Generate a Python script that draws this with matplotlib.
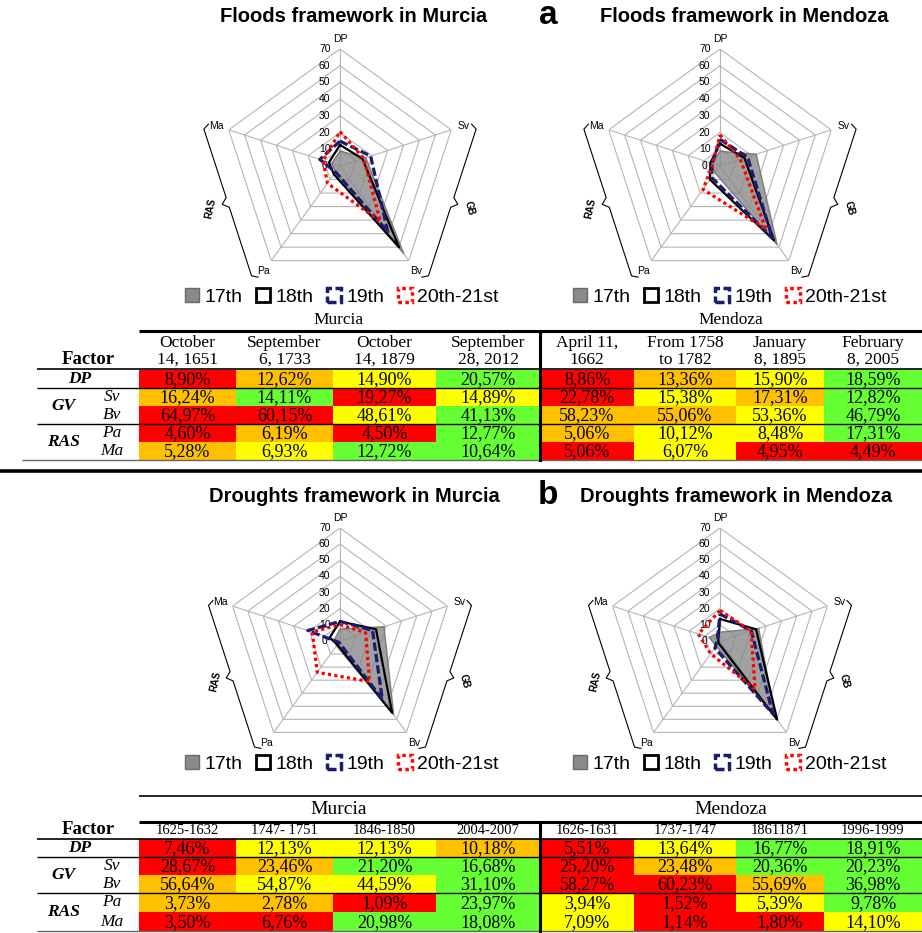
import numpy as np
import matplotlib
matplotlib.use("Agg")
import matplotlib.pyplot as plt
from matplotlib.patches import Patch, Rectangle

W, H = 922, 933

# factores (filas) y periodos (columnas)
factors = ["DP", "Sv", "Bv", "Pa", "Ma"]
series = ["17th", "18th", "19th", "20th-21st"]

floods_murcia_dates = [["October", "14, 1651"], ["September", "6, 1733"],
                       ["October", "14, 1879"], ["September", "28, 2012"]]
floods_murcia = [[8.90, 12.62, 14.90, 20.57],
                 [16.24, 14.11, 19.27, 14.89],
                 [64.97, 60.15, 48.61, 41.13],
                 [4.60, 6.19, 4.50, 12.77],
                 [5.28, 6.93, 12.72, 10.64]]
floods_murcia_col = ["royg", "ogry", "rryg", "rorg", "oygg"]

floods_mendoza_dates = [["April 11,", "1662"], ["From 1758", "to 1782"],
                        ["January", "8, 1895"], ["February", "8, 2005"]]
floods_mendoza = [[8.86, 13.36, 15.90, 18.59],
                  [22.78, 15.38, 17.31, 12.82],
                  [58.23, 55.06, 53.36, 46.79],
                  [5.06, 10.12, 8.48, 17.31],
                  [5.06, 6.07, 4.95, 4.49]]
floods_mendoza_col = ["royg", "ryog", "ooyg", "oyyg", "ryrr"]

droughts_murcia_dates = ["1625-1632", "1747- 1751", "1846-1850", "2004-2007"]
droughts_murcia = [[7.46, 12.13, 12.13, 10.18],
                   [28.67, 23.46, 21.20, 16.68],
                   [56.64, 54.87, 44.59, 31.10],
                   [3.73, 2.78, 1.09, 23.97],
                   [3.50, 6.76, 20.98, 18.08]]
droughts_murcia_col = ["ryyo", "rogg", "oyyg", "oorg", "rrgg"]

droughts_mendoza_dates = ["1626-1631", "1737-1747", "18611871", "1996-1999"]
droughts_mendoza = [[5.51, 13.64, 16.77, 18.91],
                    [25.20, 23.48, 20.36, 20.23],
                    [58.27, 60.23, 55.69, 36.98],
                    [3.94, 1.52, 5.39, 9.78],
                    [7.09, 1.14, 1.80, 14.10]]
droughts_mendoza_col = ["rygg", "rogg", "rrog", "yryg", "yrry"]

rgb = {"r": "#ff0000", "o": "#ffc000", "y": "#ffff00", "g": "#66ff33"}

fig = plt.figure(figsize=(W / 100, H / 100), dpi=100)
bg = fig.add_axes([0, 0, 1, 1])
bg.set_xlim(0, W)
bg.set_ylim(H, 0)
bg.axis("off")

angles = np.linspace(0, 2 * np.pi, 5, endpoint=False)
closed = np.append(angles, angles[0])
SANS = "Liberation Sans"
SERIF = "Liberation Serif"


def brace(ax, i, j, label, rot):
    a1, a2 = angles[i], angles[j]
    p1 = 70 * np.array([np.sin(a1), np.cos(a1)])
    p2 = 70 * np.array([np.sin(a2), np.cos(a2)])
    u = (p2 - p1) / np.linalg.norm(p2 - p1)
    mid = (a1 + a2) / 2
    n = np.array([np.sin(mid), np.cos(mid)])
    m = (p1 + p2) / 2
    d, e, h, s = 14, 7, 3.5, 3
    pts = [p1 + n * (d - h) - u * e, p1 + n * d - u * (e - 2),
           m + n * d - u * s, m + n * (d + h), m + n * d + u * s,
           p2 + n * d + u * (e - 2), p2 + n * (d - h) + u * e]
    pts = np.array(pts)
    ax.plot(np.arctan2(pts[:, 0], pts[:, 1]), np.hypot(pts[:, 0], pts[:, 1]),
            color="black", lw=0.8, clip_on=False)
    lp = m + n * (d + h + 7)
    ax.text(np.arctan2(lp[0], lp[1]), np.hypot(lp[0], lp[1]), label,
            rotation=rot, ha="center", va="center", fontsize=7,
            fontweight="bold", family=SANS)


def radar(cx, cy, vals, R=117):
    ax = fig.add_axes([(cx - R) / W, 1 - (cy + R) / H, 2 * R / W, 2 * R / H],
                      projection="polar")
    ax.set_theta_offset(np.pi / 2)
    ax.set_theta_direction(-1)
    ax.set_ylim(0, 70)
    ax.grid(False)
    ax.spines["polar"].set_visible(False)
    ax.set_xticks([])
    ax.set_yticks([])
    ax.patch.set_alpha(0)
    for r in range(10, 80, 10):
        ax.plot(closed, [r] * 6, color="#b5b5b5", lw=0.8, zorder=1)
    for a in angles:
        ax.plot([a, a], [0, 70], color="#b5b5b5", lw=0.8, zorder=1)
    for r in range(0, 80, 10):
        ax.annotate(str(r), (0, r), xytext=(-11, 0), textcoords="offset points",
                    ha="center", va="center", fontsize=7.5, family=SANS, zorder=2)
    for a, name in zip(angles, factors):
        ax.text(a, 78 if name != "DP" else 76, name, ha="center", va="center",
                fontsize=7.5, family=SANS)
    v = np.array(vals)
    ax.fill(closed, np.append(v[:, 0], v[0, 0]), facecolor="#8a8a8a", alpha=0.8,
            edgecolor="#6a6a6a", lw=1, zorder=3)
    ax.plot(closed, np.append(v[:, 1], v[0, 1]), color="black", lw=1.6, zorder=4)
    ax.plot(closed, np.append(v[:, 2], v[0, 2]), color="#1b1b72", lw=2.3,
            ls=(0, (2.6, 1)), zorder=5)
    ax.plot(closed, np.append(v[:, 3], v[0, 3]), color="#ff0000", lw=2.3,
            ls=(0, (1, 1)), zorder=6)
    brace(ax, 1, 2, "GB", -75)
    brace(ax, 3, 4, "RAS", 78)


def legend(cx, cy):
    hs = [Patch(facecolor="#8a8a8a", edgecolor="#6a6a6a", lw=1),
          Patch(facecolor="white", edgecolor="black", lw=2),
          Patch(facecolor="white", edgecolor="#1b1b72", lw=2.5, ls=(0, (2.6, 1))),
          Patch(facecolor="white", edgecolor="#ff0000", lw=2.5, ls=(0, (1, 1)))]
    fig.legend(hs, series, loc="center", bbox_to_anchor=(cx / W, 1 - cy / H),
               ncol=4, frameon=False, handlelength=0.7, handleheight=0.7,
               handletextpad=0.3, columnspacing=0.7, borderpad=0,
               prop={"family": SANS, "size": 14})


def cells(xs, ys, vals, codes, fs=13):
    for j in range(4):
        for i in range(5):
            x0, x1 = xs[j], xs[j + 1]
            y0, y1 = ys[i], ys[i + 1]
            bg.add_patch(Rectangle((x0, y0), x1 - x0, y1 - y0,
                                   facecolor=rgb[codes[i][j]], edgecolor="none"))
            bg.text((x0 + x1) / 2, (y0 + y1) / 2 + 1,
                    f"{vals[i][j]:.2f}%".replace(".", ","), ha="center",
                    va="center", fontsize=fs, family=SERIF)


def row_labels(ys):
    c = [(a + b) / 2 for a, b in zip(ys[:-1], ys[1:])]
    bg.text(80, c[0], "DP", ha="center", va="center", fontsize=12.5,
            fontweight="bold", style="italic", family=SERIF)
    bg.text(63, (c[1] + c[2]) / 2, "GV", ha="center", va="center", fontsize=12.5,
            fontweight="bold", style="italic", family=SERIF)
    bg.text(63, (c[3] + c[4]) / 2, "RAS", ha="center", va="center", fontsize=12.5,
            fontweight="bold", style="italic", family=SERIF)
    for k in range(1, 5):
        bg.text(112, c[k], factors[k], ha="center", va="center", fontsize=12.5,
                style="italic", family=SERIF)


def hline(y, x0, x1, lw=1.0, color="black"):
    bg.plot([x0, x1], [y, y], color=color, lw=lw, solid_capstyle="butt")


mur_x = [139, 236, 333, 436, 540]
men_x = [540, 634, 736, 824, 922]

# ---- a: inundaciones ----
bg.text(354, 17, "Floods framework in Murcia", ha="center", va="center",
        fontsize=14.5, fontweight="bold", family=SANS)
bg.text(548, 16, "a", ha="center", va="center", fontsize=24, fontweight="bold",
        family=SANS)
bg.text(744, 17, "Floods framework in Mendoza", ha="center", va="center",
        fontsize=14.5, fontweight="bold", family=SANS)
radar(340, 166, floods_murcia)
radar(720, 166, floods_mendoza)
legend(342, 297)
legend(730, 297)

top_y = [370, 388, 406, 424, 442, 460]
cells(mur_x, top_y, floods_murcia, floods_murcia_col)
cells(men_x, top_y, floods_mendoza, floods_mendoza_col)
bg.text(339, 320, "Murcia", ha="center", va="center", fontsize=12.5, family=SERIF)
bg.text(731, 320, "Mendoza", ha="center", va="center", fontsize=12.5, family=SERIF)
for j in range(4):
    for k, (xs, dates) in enumerate([(mur_x, floods_murcia_dates),
                                     (men_x, floods_mendoza_dates)]):
        xc = (xs[j] + xs[j + 1]) / 2
        bg.text(xc, 343, dates[j][0], ha="center", va="center", fontsize=12.5,
                family=SERIF)
        bg.text(xc, 360, dates[j][1], ha="center", va="center", fontsize=12.5,
                family=SERIF)
bg.text(88, 360, "Factor", ha="center", va="center", fontsize=13.5,
        fontweight="bold", family=SERIF)
row_labels(top_y)
hline(331, 139, W, lw=2.2)
hline(369, 37, W, lw=1.2)
hline(388, 37, W)
hline(424, 37, W)
hline(460, 22, W, color="#666666")
bg.plot([540, 540], [331, 460], color="black", lw=2.2)

hline(471, 0, W, lw=2.6)

# ---- b: sequias ----
bg.text(354, 497, "Droughts framework in Murcia", ha="center", va="center",
        fontsize=14.5, fontweight="bold", family=SANS)
bg.text(548, 495, "b", ha="center", va="center", fontsize=24, fontweight="bold",
        family=SANS)
bg.text(736, 497, "Droughts framework in Mendoza", ha="center", va="center",
        fontsize=14.5, fontweight="bold", family=SANS)
radar(340, 641, droughts_murcia, R=113)
radar(720, 641, droughts_mendoza, R=113)
legend(342, 764)
legend(730, 764)

bot_y = [839, 857, 875, 893, 912, 931]
cells(mur_x, bot_y, droughts_murcia, droughts_murcia_col)
cells(men_x, bot_y, droughts_mendoza, droughts_mendoza_col)
bg.text(339, 810, "Murcia", ha="center", va="center", fontsize=14, family=SERIF)
bg.text(731, 810, "Mendoza", ha="center", va="center", fontsize=14, family=SERIF)
for j in range(4):
    bg.text((mur_x[j] + mur_x[j + 1]) / 2, 831, droughts_murcia_dates[j],
            ha="center", va="center", fontsize=10.5, family=SERIF)
    bg.text((men_x[j] + men_x[j + 1]) / 2, 831, droughts_mendoza_dates[j],
            ha="center", va="center", fontsize=10.5, family=SERIF)
bg.text(88, 830, "Factor", ha="center", va="center", fontsize=13.5,
        fontweight="bold", family=SERIF)
row_labels(bot_y)
hline(796, 139, W, lw=1.2)
hline(822, 139, W, lw=2.2)
hline(839, 37, W, lw=1.2)
hline(857, 37, W)
hline(893, 37, W)
hline(931, 37, W, color="#666666")
bg.plot([540, 540], [822, 931], color="black", lw=2.2)

fig.savefig("out.png", dpi=100)
